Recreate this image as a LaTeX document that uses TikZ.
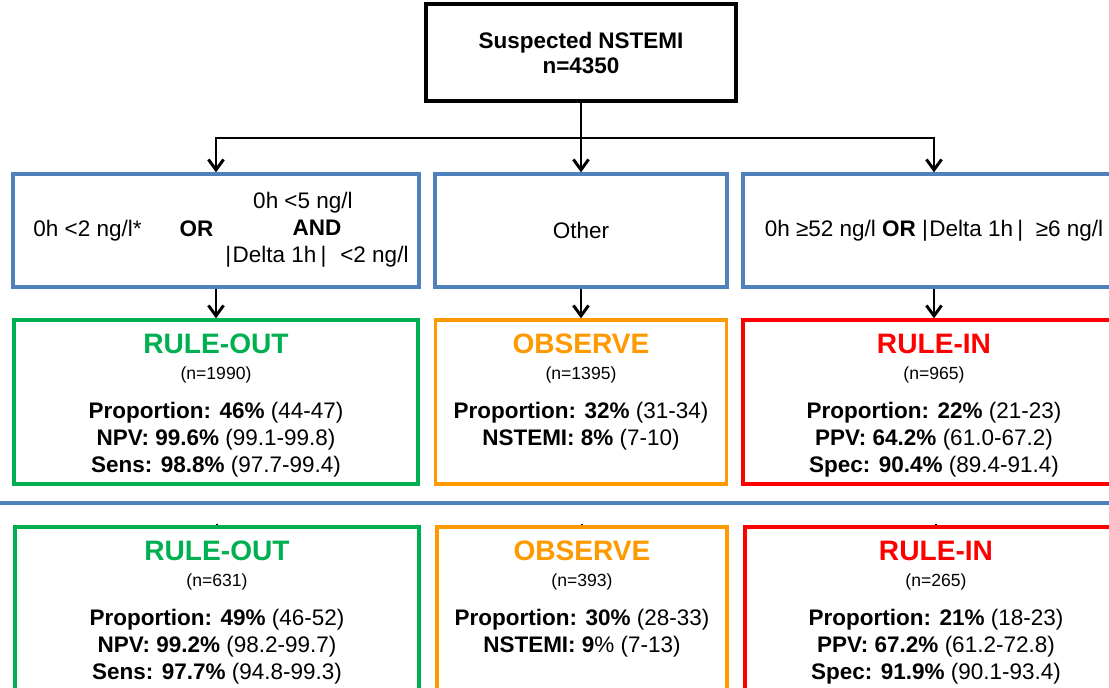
\documentclass[tikz,border=0pt]{standalone}
\usepackage{fontspec}
\setmainfont{Liberation Sans}
\usepackage{xcolor}
\usetikzlibrary{arrows.meta, positioning}
\definecolor{ruleoutgreen}{HTML}{00B050}
\definecolor{observeorange}{HTML}{FF9900}
\definecolor{ruleinred}{HTML}{FF0000}
\definecolor{condblue}{HTML}{4F81BD}
\newcommand{\restitle}[2]{{\fontsize{20}{24}\selectfont\bfseries\color{#1}\rule{0pt}{18.6pt}#2}}
\newcommand{\rescount}[1]{{\fontsize{12.5}{15}\selectfont(n=#1)}}

\begin{document}
\begin{tikzpicture}[
  >={Straight Barb[length=2.6mm, width=3.8mm]}, line width=2.1pt,
  every node/.style={font=\fontsize{16}{19.2}\selectfont},
  topbox/.style={draw=black, line width=2.4pt, minimum width=7.75cm, minimum height=2.42cm, align=center, inner sep=0pt},
  condbox/.style={draw=condblue, line width=2.4pt, minimum height=2.825cm, align=center, inner sep=0pt},
  resbox/.style={line width=2.4pt, minimum height=4.1cm, align=center, inner sep=0pt}
]
\useasboundingbox (0,0) rectangle (27.725,-17.2);
\clip (0,0) rectangle (27.725,-17.2);

\node[topbox] (TOP) at (14.525,-1.3125) {\textbf{Suspected NSTEMI}\\[-1.4pt]\textbf{n=4350}};

% criteria
\node[condbox, minimum width=10.15cm] (M1) at (5.4,-5.7625)
  {\hspace*{0.25cm}0h <2 ng/l*\hspace{0.95cm}\textbf{OR}\hspace{0.3cm}\begin{tabular}{@{}c@{}}0h <5 ng/l\hspace*{0.7cm}\\ \textbf{AND}\\ |\kern1pt Delta 1h\kern3pt|\ \ \kern1pt<2 ng/l\end{tabular}};
\node[condbox, minimum width=7.3cm] (M2) at (14.525,-5.7625) {Other};
\node[condbox, minimum width=9.55cm] (M3) at (23.35,-5.7625)
  {0h ≥52 ng/l \textbf{OR} |\kern1pt Delta 1h\kern3pt|\ \ ≥6 ng/l};

\coordinate (split) at (14.525,-3.45);
\draw (TOP) -- (split);
\draw[->] (split) -| (M1.north);
\draw[->] (split) -- (M2.north);
\draw[->] (split) -| (M3.north);

% derivation cohort
\node[resbox, draw=ruleoutgreen, minimum width=10.1cm] (R1) at (5.4,-10.05)
  {\restitle{ruleoutgreen}{RULE-OUT}\\[-0.7pt]\rescount{1990}\\[8.2pt]
   \textbf{Proportion: 46\%} (44-47)\\ \textbf{NPV: 99.6\%} (99.1-99.8)\\ \textbf{Sens: 98.8\%} (97.7-99.4)};
\node[resbox, draw=observeorange, minimum width=7.275cm] (R2) at (14.525,-10.05)
  {\restitle{observeorange}{OBSERVE}\\[-0.7pt]\rescount{1395}\\[8.2pt]
   \textbf{Proportion: 32\%} (31-34)\\ \textbf{NSTEMI: 8\%} (7-10)\\ \vphantom{(}};
\node[resbox, draw=ruleinred, minimum width=9.55cm] (R3) at (23.35,-10.05)
  {\restitle{ruleinred}{RULE-IN}\\[-0.7pt]\rescount{965}\\[8.2pt]
   \textbf{Proportion: 22\%} (21-23)\\ \textbf{PPV: 64.2\%} (61.0-67.2)\\ \textbf{Spec: 90.4\%} (89.4-91.4)};
\draw[->] (M1) -- (R1);
\draw[->] (M2) -- (R2);
\draw[->] (M3) -- (R3);

\draw[condblue, line width=2.4pt] (0,-12.575) -- (27.725,-12.575);

% validation cohort
\node[resbox, draw=ruleoutgreen, minimum width=10.1cm] (B1) at (5.425,-15.225)
  {\restitle{ruleoutgreen}{RULE-OUT}\\[-0.7pt]\rescount{631}\\[8.2pt]
   \textbf{Proportion: 49\%} (46-52)\\ \textbf{NPV: 99.2\%} (98.2-99.7)\\ \textbf{Sens: 97.7\%} (94.8-99.3)};
\node[resbox, draw=observeorange, minimum width=7.25cm] (B2) at (14.55,-15.225)
  {\restitle{observeorange}{OBSERVE}\\[-0.7pt]\rescount{393}\\[8.2pt]
   \textbf{Proportion: 30\%} (28-33)\\ \textbf{NSTEMI: 9}\% (7-13)\\ \vphantom{(}};
\node[resbox, draw=ruleinred, minimum width=9.55cm] (B3) at (23.4,-15.225)
  {\restitle{ruleinred}{RULE-IN}\\[-0.7pt]\rescount{265}\\[8.2pt]
   \textbf{Proportion: 21\%} (18-23)\\ \textbf{PPV: 67.2\%} (61.2-72.8)\\ \textbf{Spec: 91.9\%} (90.1-93.4)};
\coordinate (T1) at (5.425,-13.1);
\coordinate (T2) at (14.55,-13.1);
\coordinate (T3) at (23.4,-13.1);
\draw (T1) -- (B1.north);
\draw (T2) -- (B2.north);
\draw (T3) -- (B3.north);
\end{tikzpicture}
\end{document}
